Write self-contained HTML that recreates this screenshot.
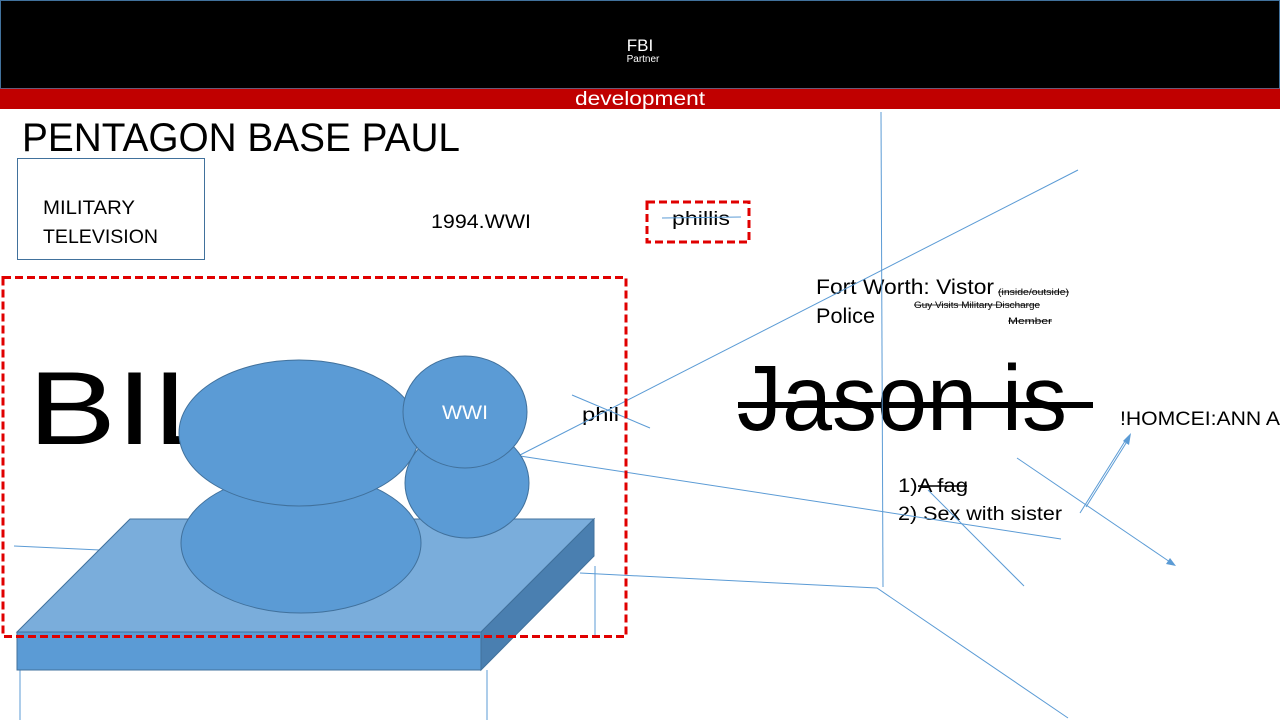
<!DOCTYPE html>
<html><head><meta charset="utf-8"><style>
html,body{margin:0;padding:0;background:#fff;}
svg{display:block;}
text{font-family:"Liberation Sans",sans-serif;}
</style></head><body>
<svg width="1280" height="720" viewBox="0 0 1280 720" xmlns="http://www.w3.org/2000/svg">
<rect x="0" y="0" width="1280" height="720" fill="#fff"/>
<rect x="0.5" y="0.5" width="1279" height="88" fill="#000" stroke="#41719c" stroke-width="1"/>
<text x="640" y="51" font-size="17" fill="#fff" text-anchor="middle">FBI</text>
<text x="643" y="62" font-size="10" fill="#fff" text-anchor="middle">Partner</text>
<rect x="0" y="88" width="1280" height="21" fill="#c00000"/>
<line x1="0" y1="88.5" x2="1280" y2="88.5" stroke="#6a5a7a" stroke-width="1"/>
<text x="640" y="105" font-size="19" fill="#fff" text-anchor="middle" textLength="130" lengthAdjust="spacingAndGlyphs">development</text>

<text x="22" y="151" font-size="40" fill="#000" textLength="438" lengthAdjust="spacingAndGlyphs">PENTAGON BASE PAUL</text>
<rect x="17.5" y="158.5" width="187" height="101" fill="none" stroke="#41719c" stroke-width="1"/>
<text x="43" y="214" font-size="19" fill="#000" textLength="92" lengthAdjust="spacingAndGlyphs">MILITARY</text>
<text x="43" y="243" font-size="19" fill="#000" textLength="115" lengthAdjust="spacingAndGlyphs">TELEVISION</text>
<text x="431" y="228" font-size="19" fill="#000" textLength="100" lengthAdjust="spacingAndGlyphs">1994.WWI</text>

<rect x="647" y="202" width="102" height="40" fill="none" stroke="#e00000" stroke-width="3" stroke-dasharray="8,4"/>
<text x="672" y="225" font-size="19" fill="#000" textLength="58" lengthAdjust="spacingAndGlyphs">phillis</text>
<line x1="662" y1="218" x2="741" y2="217" stroke="#5b9bd5" stroke-width="1"/>

<text x="28" y="444" font-size="104" fill="#000" textLength="360" lengthAdjust="spacingAndGlyphs">BILLS</text>
<text x="737" y="430" font-size="93" fill="#000" textLength="330" lengthAdjust="spacingAndGlyphs">Jason is</text>
<rect x="738" y="402" width="355" height="6" fill="#000"/>

<text x="816" y="294" font-size="21" fill="#000" textLength="178" lengthAdjust="spacingAndGlyphs">Fort Worth: Vistor</text>
<text x="816" y="323" font-size="21" fill="#000" textLength="59" lengthAdjust="spacingAndGlyphs">Police</text>
<text x="998" y="295" font-size="9" fill="#000" textLength="71" lengthAdjust="spacingAndGlyphs">(inside/outside)</text>
<line x1="998" y1="292" x2="1069" y2="292" stroke="#000" stroke-width="0.8"/>
<text x="914" y="308" font-size="9" fill="#000" textLength="126" lengthAdjust="spacingAndGlyphs">Guy Visits Military Discharge</text>
<line x1="914" y1="305" x2="1040" y2="305" stroke="#000" stroke-width="0.8"/>
<text x="1008" y="324" font-size="9" fill="#000" textLength="44" lengthAdjust="spacingAndGlyphs">Member</text>
<line x1="1008" y1="321" x2="1052" y2="321" stroke="#000" stroke-width="0.8"/>

<text x="1120" y="425" font-size="19" fill="#000" textLength="160" lengthAdjust="spacingAndGlyphs">!HOMCEI:ANN A</text>
<text x="582" y="421" font-size="19" fill="#000" textLength="37" lengthAdjust="spacingAndGlyphs">phil</text>

<text x="898" y="492" font-size="19" fill="#000" textLength="70" lengthAdjust="spacingAndGlyphs">1)A fag</text>
<line x1="918" y1="486" x2="967" y2="486" stroke="#000" stroke-width="1.5"/>
<text x="898" y="520" font-size="19" fill="#000" textLength="164" lengthAdjust="spacingAndGlyphs">2) Sex with sister</text>

<g stroke="#5b9bd5" stroke-width="1" fill="none">
<line x1="881" y1="112" x2="883" y2="587"/>
<line x1="520" y1="455" x2="1078" y2="170"/>
<line x1="520" y1="456" x2="1061" y2="539"/>
<line x1="572" y1="395" x2="650" y2="428"/>
<line x1="14" y1="546" x2="100" y2="550"/>
<polyline points="580,573 877,588 1068,718"/>
<line x1="595" y1="566" x2="595" y2="638"/>
<line x1="20" y1="670" x2="20" y2="720"/>
<line x1="487" y1="670" x2="487" y2="720"/>
<line x1="1017" y1="458" x2="1170" y2="562"/>
<line x1="1080" y1="513" x2="1127" y2="438"/>
<line x1="1086" y1="507" x2="1128" y2="440"/>
<line x1="928" y1="490" x2="1024" y2="586"/>
</g>
<polygon points="1176,566 1166,564 1170,558" fill="#5b9bd5"/>
<polygon points="1131,433 1129,445 1123,441" fill="#5b9bd5"/>

<polygon points="130,519 594,519 481,632 17,632" fill="#7aaddb" stroke="#41719c" stroke-width="1"/>
<polygon points="17,632 481,632 481,670 17,670" fill="#5b9bd5" stroke="#41719c" stroke-width="1"/>
<polygon points="481,632 594,519 594,556 481,670" fill="#4a7fb0" stroke="#41719c" stroke-width="1"/>

<g fill="#5b9bd5" stroke="#41719c" stroke-width="1">
<ellipse cx="301" cy="543" rx="120" ry="70"/>
<ellipse cx="299" cy="433" rx="120" ry="73"/>
<ellipse cx="467" cy="483" rx="62" ry="55"/>
<ellipse cx="465" cy="412" rx="62" ry="56"/>
</g>
<text x="465" y="419" font-size="19" fill="#fff" text-anchor="middle" textLength="46" lengthAdjust="spacingAndGlyphs">WWI</text>

<rect x="3" y="277.5" width="623" height="359" fill="none" stroke="#e00000" stroke-width="3" stroke-dasharray="8,4"/>
</svg>
</body></html>
